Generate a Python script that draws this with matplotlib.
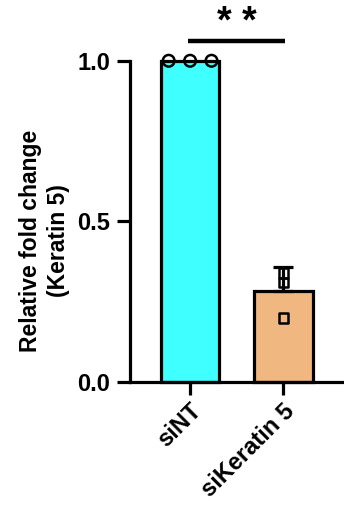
import numpy as np
import matplotlib.pyplot as plt

plt.rcParams['font.family'] = ['Liberation Sans', 'DejaVu Sans']
plt.rcParams['font.weight'] = 'bold'

groups = ['siNT', 'siKeratin 5']
siNT = [1.0, 1.0, 1.0]
siKrt5 = [0.34, 0.31, 0.20]
colors = ['#40FFFF', '#F0B880']

means = [np.mean(siNT), np.mean(siKrt5)]
sds = [np.std(siNT, ddof=1), np.std(siKrt5, ddof=1)]

fig = plt.figure(figsize=(3.44, 5.15), dpi=100)
ax = fig.add_axes([0.378, 0.258, 0.62, 0.624])
x = np.arange(len(groups))
lw = 2.3

ax.bar(x, means, width=0.63, color=colors, edgecolor='black', linewidth=lw, zorder=2, clip_on=False)
ax.errorbar(x[1], means[1], yerr=[[0], [sds[1]]], fmt='none', ecolor='black',
            elinewidth=lw, capsize=7, capthick=lw, zorder=3, clip_on=False)
ax.scatter(x[0] + np.array([-0.23, 0, 0.23]), siNT, marker='o', s=70, facecolor='none',
           edgecolor='black', linewidth=1.8, zorder=4, clip_on=False)
ax.scatter([x[1]] * 3, siKrt5, marker='s', s=45, facecolor='none',
           edgecolor='black', linewidth=1.8, zorder=4, clip_on=False)

# significance
ax.plot([-0.02, 1.02], [1.062, 1.062], color='black', lw=3.2, clip_on=False, solid_capstyle='butt')
ax.text(0.5, 1.06, '* *', ha='center', va='bottom', fontsize=27, fontweight='bold')

ax.set_xlim(-0.645, 1.645)
ax.set_ylim(0, 1.0)
ax.set_yticks([0.0, 0.5, 1.0])
ax.set_yticklabels(['0.0', '0.5', '1.0'], fontsize=17, fontweight='bold')
ax.set_xticks(x)
ax.set_xticklabels(groups, rotation=45, ha='right', rotation_mode='anchor', fontsize=17, fontweight='bold')
ax.tick_params(axis='y', width=lw, length=9.5, pad=5)
ax.tick_params(axis='x', width=lw, length=9.5, pad=3)
ax.set_ylabel('Relative fold change\n(Keratin 5)', fontsize=16.5, fontweight='bold', linespacing=1.3)
ax.yaxis.set_label_coords(-0.28, 0.44)
for s in ['top', 'right']:
    ax.spines[s].set_visible(False)
for s in ['left', 'bottom']:
    ax.spines[s].set_linewidth(lw)

fig.savefig('out.png', dpi=100)
